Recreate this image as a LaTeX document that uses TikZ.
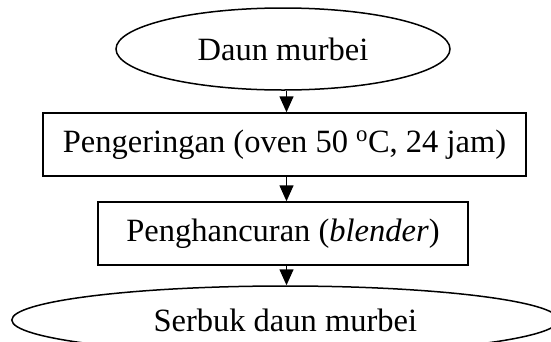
\documentclass[tikz,border=0pt]{standalone}
\usepackage{fontspec}
\setmainfont{Liberation Serif}
\usetikzlibrary{shapes.geometric,arrows.meta}
\begin{document}
\begin{tikzpicture}[x=1pt,y=-1pt,
  every node/.style={font=\fontsize{32.5}{39}\selectfont, inner sep=0pt},
  oval/.style={draw, ellipse, line width=1.5pt},
  stepbox/.style={draw, rectangle, line width=1.5pt},
  arr/.style={line width=1.5pt, -{Triangle[length=16pt,width=14pt]}}]
\useasboundingbox (0,0) rectangle (551,341);
\node[oval, minimum width=334pt, minimum height=82pt] (e1) at (283,49) {Daun murbei};
\node[stepbox, minimum width=483pt, minimum height=63pt] (b1) at (284.5,144.5) {Pengeringan (oven 50 \raisebox{2pt}{\textsuperscript{o}}C, 24 jam)};
\node[stepbox, minimum width=370pt, minimum height=63pt] (b2) at (283,233.5) {Penghancuran (\textit{blender})};
\node[oval, minimum width=547pt, minimum height=68pt] (e2) at (285.3,320) {Serbuk daun murbei};
\coordinate (ax) at (286.5,0);
\draw[arr] (e1.south -| ax) -- (b1.north -| ax);
\draw[arr] (b1.south -| ax) -- (b2.north -| ax);
\draw[arr] (b2.south -| ax) -- (e2.north -| ax);
\end{tikzpicture}
\end{document}
